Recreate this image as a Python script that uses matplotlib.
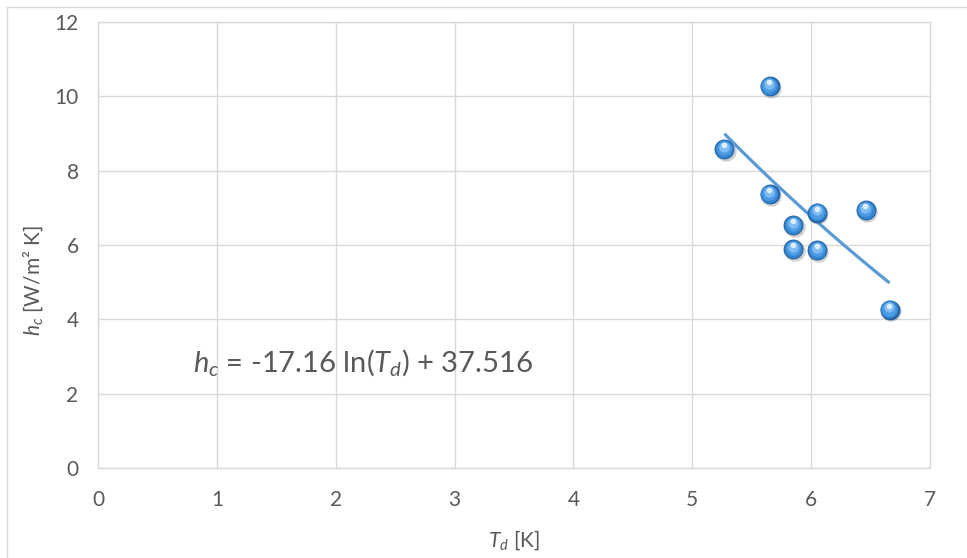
import matplotlib
matplotlib.use("Agg")
import matplotlib.pyplot as plt
import matplotlib.transforms as mtransforms
from matplotlib.lines import Line2D
import numpy as np

# ---- data ----
td = [5.65, 5.27, 5.65, 6.05, 6.46, 5.85, 5.85, 6.05, 6.66]
hc = [10.28, 8.58, 7.37, 6.87, 6.93, 6.54, 5.88, 5.86, 4.26]
fit_a = -17.16
fit_b = 37.516
x_ticks = [0, 1, 2, 3, 4, 5, 6, 7]
y_ticks = [0, 2, 4, 6, 8, 10, 12]

plt.rcParams['font.family'] = ['Lato', 'DejaVu Sans']
plt.rcParams['mathtext.fontset'] = 'custom'
plt.rcParams['mathtext.rm'] = 'Lato'
plt.rcParams['mathtext.it'] = 'Lato:italic'

W, H = 967, 558
L, R, T, B = 98, 930, 22, 468
fig = plt.figure(figsize=(W / 100, H / 100), dpi=100)
ax = fig.add_axes([L / W, 1 - B / H, (R - L) / W, (B - T) / H])

grey_txt = '#595959'
grid_c = '#D9D9D9'

ax.set_xlim(0, 7)
ax.set_ylim(0, 12)
ax.set_xticks(x_ticks)
ax.set_yticks(y_ticks)
ax.grid(True, color=grid_c, linewidth=1.0)
ax.set_axisbelow(True)
for s in ax.spines.values():
    s.set_color(grid_c)
    s.set_linewidth(1.0)
ax.tick_params(length=0, labelsize=15, labelcolor=grey_txt)
ax.tick_params(axis='x', pad=16)
ax.tick_params(axis='y', pad=14)

# trend line
xf = np.linspace(min(td), max(td), 100)
ax.plot(xf, fit_a * np.log(xf) + fit_b, color='#5B9BD5', linewidth=2.3, zorder=3,
        solid_capstyle='butt')

# spheres: layered circles
def off(dx, dy):
    return mtransforms.offset_copy(ax.transData, fig=fig, x=dx, y=dy, units='points')

ax.scatter(td, hc, s=215, color='#7f7f7f', alpha=0.35, linewidths=0,
           transform=off(0.9, -1.2), zorder=4)
ax.scatter(td, hc, s=205, color='#2463A3', linewidths=0, zorder=5)
ax.scatter(td, hc, s=165, color='#3584D0', linewidths=0, transform=off(-0.2, 0.3), zorder=6)
ax.scatter(td, hc, s=110, color='#4C9BE3', linewidths=0, transform=off(-0.3, 0.8), zorder=7)
ax.scatter(td, hc, s=55, color='#80BDF2', linewidths=0, transform=off(-0.4, 1.6), zorder=8)
ax.scatter(td, hc, s=16, color='#EAF5FF', alpha=0.9, linewidths=0,
           transform=off(-0.4, 2.9), zorder=9)

ax.set_xlabel(r'$\mathit{T_d}$ [K]', fontsize=15, color=grey_txt, labelpad=13)
ax.set_ylabel(r'$\mathit{h_c}$ [W/m² K]', fontsize=15, color=grey_txt)
ax.yaxis.set_label_coords((45 - L) / (R - L), (B - 281) / (B - T))

fig.text(193 / W, 1 - 362 / H, r'$\mathit{h_c}$ = -17.16 ln($\mathit{T_d}$) + 37.516',
         fontsize=21, color=grey_txt, va='center', ha='left')

# outer chart border (left and top visible)
fig.add_artist(Line2D([6.5 / W, 6.5 / W], [0, 1 - 6.5 / H], transform=fig.transFigure,
                      color=grid_c, linewidth=1.0))
fig.add_artist(Line2D([6.5 / W, 1], [1 - 6.5 / H, 1 - 6.5 / H], transform=fig.transFigure,
                      color=grid_c, linewidth=1.0))

fig.savefig('out.png', dpi=100, facecolor='white')
